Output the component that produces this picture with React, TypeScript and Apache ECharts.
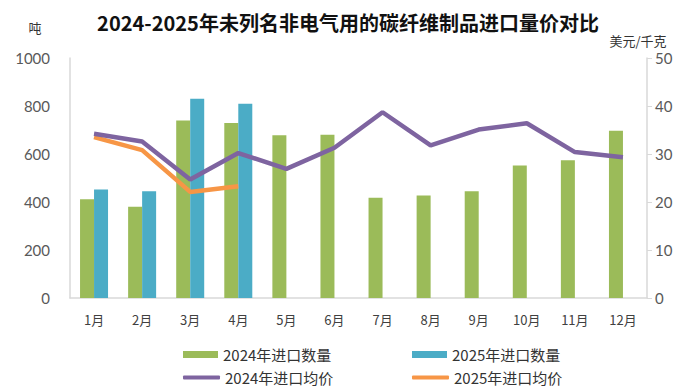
import React, { useEffect, useRef } from "react";
import * as echarts from "echarts";

const months = ["1月", "2月", "3月", "4月", "5月", "6月", "7月", "8月", "9月", "10月", "11月", "12月"];
const qty2024 = [411, 380, 740, 729, 678, 680, 418, 427, 445, 552, 574, 697];
const qty2025 = [452, 445, 830, 809];
const price2024 = [34.2, 32.6, 24.7, 30.2, 26.9, 31.3, 38.7, 31.8, 35.1, 36.4, 30.4, 29.3];
const price2025 = [33.5, 30.8, 22.1, 23.3];
const leftTicks = { min: 0, max: 1000, interval: 200 };
const rightTicks = { min: 0, max: 50, interval: 10 };

const FONT = '"Noto Sans CJK SC", "Noto Sans", sans-serif';
const NUMFONT = 'Lato, "Noto Sans", sans-serif';

export default function App() {
  const ref = useRef<HTMLDivElement>(null);
  useEffect(() => {
    if (!ref.current) return;
    const chart = echarts.init(ref.current, null, { renderer: "svg" });
    const legendText = { fontFamily: FONT, fontSize: 15, color: "#333" };
    chart.setOption({
      animation: false,
      backgroundColor: "#ffffff",
      grid: { left: 70, right: 41, top: 58, bottom: 91, containLabel: false },
      graphic: [
        {
          type: "text",
          x: 348,
          y: 22,
          style: {
            text: "2024-2025年未列名非电气用的碳纤维制品进口量价对比",
            font: `bold 20px ${FONT}`,
            fill: "#111",
            textAlign: "center",
            textVerticalAlign: "middle",
          },
        },
        {
          type: "text",
          x: 35,
          y: 27,
          style: { text: "吨", font: `13px ${FONT}`, fill: "#333", textAlign: "center", textVerticalAlign: "middle" },
        },
        {
          type: "text",
          x: 638,
          y: 40,
          style: { text: "美元/千克", font: `13px ${FONT}`, fill: "#333", textAlign: "center", textVerticalAlign: "middle" },
        },
      ],
      legend: [
        { data: ["2024年进口数量"], left: 178, top: 342, icon: "rect", itemWidth: 35, itemHeight: 7, textStyle: legendText },
        { data: ["2025年进口数量"], left: 407, top: 342, icon: "rect", itemWidth: 35, itemHeight: 7, textStyle: legendText },
        { data: ["2024年进口均价"], left: 178, top: 365, icon: "roundRect", itemWidth: 37, itemHeight: 4, textStyle: legendText },
        { data: ["2025年进口均价"], left: 407, top: 365, icon: "roundRect", itemWidth: 37, itemHeight: 4, textStyle: legendText },
      ],
      xAxis: {
        type: "category",
        data: months,
        axisLine: { show: true, lineStyle: { color: "#d9d9d9", width: 1.5 } },
        axisTick: { show: false },
        axisLabel: { color: "#404040", fontSize: 13, fontFamily: FONT, margin: 15 },
      },
      yAxis: [
        {
          type: "value",
          ...leftTicks,
          axisLine: { show: true, lineStyle: { color: "#d9d9d9", width: 1.5 } },
          axisTick: { show: false },
          splitLine: { show: false },
          axisLabel: { color: "#595959", fontSize: 15, fontFamily: NUMFONT, margin: 20, formatter: (v: number) => String(v) },
        },
        {
          type: "value",
          position: "right",
          ...rightTicks,
          axisLine: { show: true, lineStyle: { color: "#d9d9d9", width: 1.5 } },
          axisTick: { show: true, length: 5, lineStyle: { color: "#d9d9d9" } },
          splitLine: { show: false },
          axisLabel: { color: "#595959", fontSize: 15, fontFamily: NUMFONT, margin: 8, formatter: (v: number) => String(v) },
        },
      ],
      series: [
        {
          name: "2024年进口数量",
          type: "bar",
          data: qty2024,
          barWidth: 14,
          barGap: "0%",
          itemStyle: { color: "#9BBB59" },
        },
        {
          name: "2025年进口数量",
          type: "bar",
          data: qty2025,
          barWidth: 14,
          barGap: "0%",
          itemStyle: { color: "#4BACC6" },
        },
        {
          name: "2025年进口均价",
          type: "line",
          yAxisIndex: 1,
          data: price2025,
          symbol: "none",
          lineStyle: { color: "#F79646", width: 4.5 },
          itemStyle: { color: "#F79646" },
        },
        {
          name: "2024年进口均价",
          type: "line",
          yAxisIndex: 1,
          data: price2024,
          symbol: "none",
          lineStyle: { color: "#7E64A0", width: 4.5 },
          itemStyle: { color: "#7E64A0" },
        },
      ],
    });
    return () => chart.dispose();
  }, []);
  return <div ref={ref} style={{ position: "fixed", left: 0, top: 0, width: 688, height: 389 }} />;
}
